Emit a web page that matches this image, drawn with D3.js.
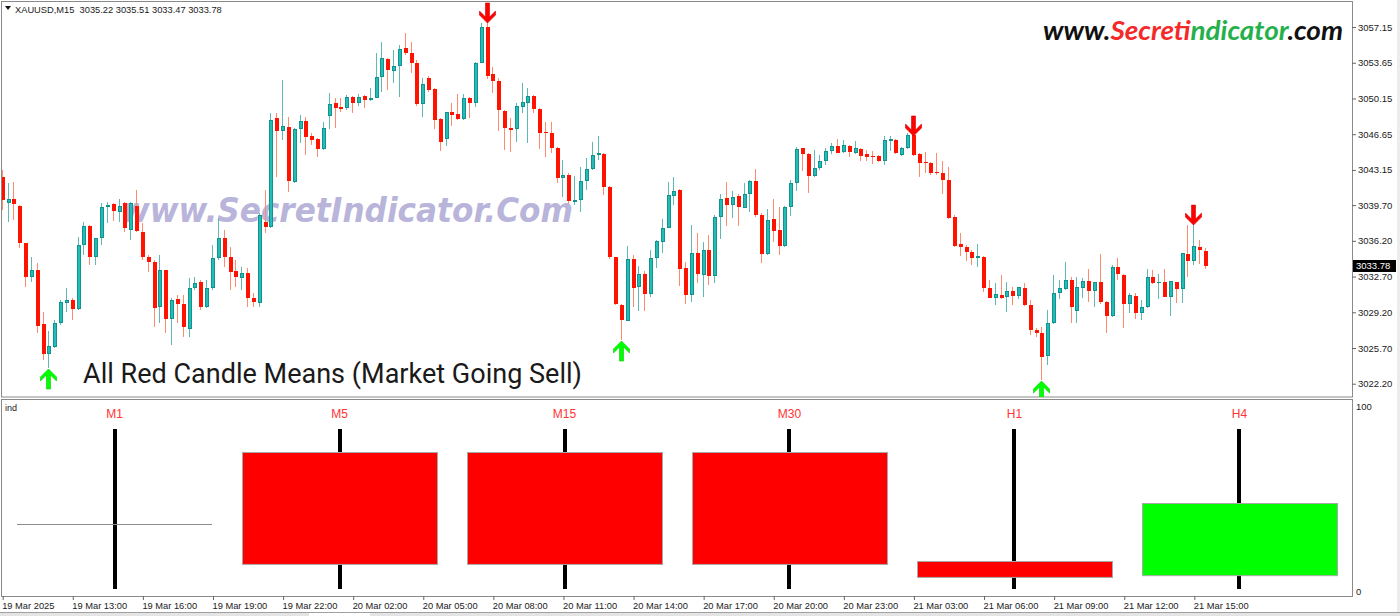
<!DOCTYPE html>
<html><head><meta charset="utf-8">
<script src="https://cdn.jsdelivr.net/npm/d3@7"></script>
<style>body{margin:0;background:#fff}svg{display:block}</style>
</head><body><svg id="c" width="1400" height="616"></svg>
<script>
// ---------- DATA (XAUUSD M15) ----------
const opens=[3042.45,3039.91,3040.30,3039.61,3035.99,3032.65,3033.34,3028.05,3025.11,3025.79,3028.15,3030.11,3030.40,3029.52,3035.79,3037.65,3034.61,3036.48,3039.51,3039.81,3039.02,3039.91,3037.26,3039.61,3037.06,3034.61,3034.12,3029.71,3033.34,3028.54,3030.50,3030.01,3027.56,3031.58,3032.16,3029.71,3031.58,3034.52,3036.48,3034.61,3033.24,3032.56,3033.05,3030.60,3030.11,3038.04,3037.55,3048.24,3046.96,3047.35,3041.96,3047.16,3047.94,3046.47,3046.18,3045.20,3048.43,3049.71,3049.31,3049.22,3050.29,3049.71,3050.39,3050.00,3050.20,3052.25,3054.02,3052.84,3053.33,3055.10,3054.61,3053.63,3049.61,3052.16,3051.08,3048.14,3046.18,3048.82,3048.63,3048.14,3050.20,3049.71,3053.63,3057.15,3052.55,3051.86,3048.92,3047.26,3047.16,3049.31,3049.71,3050.39,3049.12,3046.86,3046.77,3045.30,3042.36,3042.65,3040.00,3040.20,3042.06,3043.24,3044.61,3044.71,3041.47,3034.61,3029.91,3028.34,3034.42,3031.67,3032.95,3030.99,3034.52,3036.08,3037.46,3040.59,3041.18,3033.54,3030.89,3035.01,3032.85,3035.30,3032.75,3038.53,3040.40,3039.71,3040.59,3039.42,3040.79,3042.06,3038.73,3034.91,3038.34,3037.26,3035.69,3039.51,3041.87,3045.30,3044.71,3042.55,3043.34,3044.02,3045.00,3045.49,3044.90,3045.49,3044.81,3045.20,3044.71,3044.51,3044.51,3044.02,3045.98,3046.08,3044.61,3045.30,3046.57,3044.71,3043.92,3043.83,3042.94,3042.85,3042.16,3038.53,3035.89,3035.59,3035.10,3034.52,3034.61,3031.58,3030.60,3030.89,3030.69,3031.28,3030.79,3031.58,3029.91,3027.46,3027.17,3024.91,3028.15,3031.09,3031.48,3032.36,3029.32,3031.58,3032.26,3031.28,3032.16,3030.20,3028.83,3033.63,3032.85,3030.01,3030.79,3029.13,3029.71,3032.65,3032.02,3032.16,3030.69,3032.16,3031.48,3034.91,3034.22,3035.59,3035.22];
const highs=[3043.14,3041.87,3041.96,3039.71,3035.99,3034.61,3034.03,3029.22,3027.36,3028.44,3030.40,3031.58,3030.60,3036.57,3038.04,3037.75,3036.48,3039.91,3040.00,3039.91,3040.30,3040.00,3040.00,3041.18,3037.95,3034.81,3034.32,3034.81,3033.34,3030.60,3030.89,3030.89,3032.56,3032.65,3032.36,3032.36,3035.79,3038.44,3037.26,3035.59,3034.32,3033.63,3033.54,3031.09,3038.93,3041.18,3048.73,3048.73,3051.96,3048.33,3047.26,3048.53,3048.33,3046.77,3046.28,3047.84,3050.69,3050.20,3050.20,3050.49,3050.39,3050.59,3050.49,3051.18,3054.61,3055.68,3054.12,3054.90,3055.39,3056.57,3055.68,3053.92,3052.16,3052.35,3051.18,3048.24,3048.82,3049.71,3050.59,3050.59,3050.29,3053.72,3057.55,3057.84,3053.23,3052.16,3049.02,3048.24,3049.71,3051.67,3051.18,3050.49,3049.22,3047.84,3047.84,3045.39,3044.12,3042.85,3042.55,3043.43,3044.32,3045.88,3046.47,3044.81,3041.57,3034.61,3030.01,3035.69,3034.81,3033.73,3033.24,3035.30,3036.28,3038.34,3041.96,3042.45,3041.28,3034.12,3037.75,3036.97,3036.08,3036.77,3038.73,3040.79,3041.96,3041.08,3040.79,3041.87,3042.16,3043.24,3038.93,3039.32,3040.30,3039.51,3039.61,3042.16,3045.39,3045.30,3044.81,3045.10,3044.61,3045.30,3045.79,3046.18,3046.08,3045.59,3045.98,3045.30,3045.10,3045.00,3044.61,3046.47,3046.47,3046.18,3045.39,3046.77,3046.77,3044.81,3044.90,3043.92,3044.81,3044.02,3043.43,3038.73,3036.97,3035.79,3035.30,3035.89,3034.71,3032.36,3032.07,3032.85,3032.16,3031.67,3031.67,3032.07,3030.40,3027.66,3027.75,3029.42,3032.85,3032.36,3034.12,3032.65,3032.65,3032.56,3033.44,3032.16,3034.91,3030.30,3033.83,3034.52,3032.95,3031.09,3031.09,3030.40,3033.44,3033.34,3032.95,3033.44,3032.26,3032.16,3035.01,3037.75,3038.04,3036.28,3035.51];
const lows=[3039.22,3038.04,3038.24,3035.50,3031.67,3032.16,3027.17,3024.52,3023.74,3025.70,3027.95,3029.22,3028.44,3029.42,3034.81,3033.83,3033.83,3035.79,3037.95,3038.14,3038.04,3037.06,3036.28,3037.06,3034.32,3033.14,3027.75,3028.15,3027.17,3025.99,3028.15,3026.77,3026.77,3031.38,3029.42,3029.62,3031.38,3034.32,3033.63,3031.38,3031.67,3031.38,3029.71,3029.71,3029.71,3036.97,3037.46,3042.45,3046.08,3040.98,3041.87,3045.79,3044.61,3045.59,3044.41,3045.10,3047.16,3047.26,3048.82,3049.02,3048.73,3049.41,3049.22,3049.90,3050.20,3050.78,3050.98,3051.67,3050.29,3054.41,3052.65,3049.41,3048.33,3050.78,3047.16,3045.00,3045.49,3047.45,3048.04,3048.04,3048.24,3049.31,3053.63,3052.06,3050.69,3046.96,3045.10,3044.90,3045.88,3048.73,3045.79,3048.73,3045.20,3044.41,3044.81,3041.87,3040.49,3039.81,3039.71,3039.02,3041.18,3043.14,3044.12,3040.69,3034.42,3029.91,3026.48,3028.34,3029.71,3029.32,3029.32,3030.69,3033.54,3035.01,3037.46,3039.71,3031.77,3030.01,3030.20,3032.07,3030.69,3031.87,3032.07,3036.38,3037.65,3038.44,3037.65,3039.42,3039.02,3038.53,3034.03,3034.81,3036.08,3034.81,3035.59,3038.63,3041.08,3043.04,3040.89,3042.45,3043.14,3043.63,3044.71,3044.81,3044.81,3044.41,3044.71,3044.02,3044.02,3043.73,3043.92,3043.63,3045.00,3044.71,3044.51,3045.20,3044.51,3042.45,3042.85,3042.65,3042.65,3040.79,3038.34,3035.59,3034.71,3034.22,3033.83,3033.63,3031.18,3030.60,3029.91,3030.50,3029.22,3029.91,3030.50,3029.81,3026.97,3026.77,3022.56,3024.03,3028.05,3030.50,3031.38,3028.15,3028.15,3030.60,3030.20,3029.71,3030.01,3027.17,3028.73,3032.36,3027.66,3029.13,3028.54,3028.44,3029.62,3031.97,3030.50,3030.69,3028.83,3030.11,3030.11,3032.65,3033.83,3033.93,3033.47];
const closes=[3040.20,3040.30,3039.81,3035.99,3032.65,3033.34,3027.85,3025.11,3025.89,3028.15,3030.20,3030.40,3029.52,3035.79,3037.65,3034.61,3036.48,3039.51,3039.71,3039.12,3039.61,3037.46,3039.91,3037.16,3034.61,3034.12,3029.62,3033.34,3028.54,3030.40,3030.01,3027.75,3031.58,3032.07,3029.71,3031.58,3034.52,3036.48,3034.61,3033.14,3032.65,3033.05,3030.60,3030.20,3038.73,3037.55,3048.04,3046.96,3047.45,3042.06,3047.16,3047.94,3046.37,3046.08,3045.20,3047.26,3049.61,3049.22,3049.12,3050.29,3049.71,3050.29,3050.00,3050.20,3052.25,3054.12,3052.94,3053.33,3055.00,3054.61,3053.63,3049.61,3051.57,3050.98,3048.04,3045.88,3048.82,3048.53,3048.14,3050.20,3049.71,3053.63,3057.15,3052.35,3051.86,3049.02,3047.26,3047.11,3049.41,3049.80,3050.39,3049.12,3046.77,3046.77,3045.30,3042.36,3042.65,3040.10,3040.20,3042.06,3043.24,3044.61,3044.81,3041.47,3034.61,3030.01,3028.44,3034.42,3031.58,3032.95,3030.99,3034.52,3036.18,3037.46,3040.69,3041.08,3033.44,3030.89,3035.01,3032.95,3035.30,3032.75,3038.53,3040.30,3039.71,3040.49,3039.51,3040.79,3042.06,3038.73,3034.91,3038.24,3037.16,3035.69,3039.51,3041.87,3045.20,3044.71,3042.55,3043.34,3044.02,3045.00,3045.49,3044.81,3045.59,3044.90,3045.30,3044.51,3044.41,3044.41,3044.02,3046.08,3046.18,3044.81,3045.30,3046.57,3044.61,3043.83,3043.78,3042.85,3042.80,3042.16,3038.44,3035.69,3035.59,3035.10,3034.52,3034.71,3031.58,3030.60,3030.99,3030.60,3031.28,3030.79,3031.67,3029.91,3027.46,3027.17,3024.81,3028.15,3031.09,3031.58,3032.36,3029.71,3031.67,3032.26,3031.28,3032.16,3030.20,3028.83,3033.63,3032.95,3030.01,3030.89,3029.13,3029.71,3032.65,3032.07,3032.16,3030.69,3032.26,3031.48,3035.01,3034.22,3035.69,3035.30,3033.78];

const priceTicks=[3057.15,3053.65,3050.15,3046.65,3043.15,3039.70,3036.20,3032.70,3029.20,3025.70,3022.20];
const timeLabels=["19 Mar 2025","19 Mar 13:00","19 Mar 16:00","19 Mar 19:00","19 Mar 22:00","20 Mar 02:00","20 Mar 05:00","20 Mar 08:00","20 Mar 11:00","20 Mar 14:00","20 Mar 17:00","20 Mar 20:00","20 Mar 23:00","21 Mar 03:00","21 Mar 06:00","21 Mar 09:00","21 Mar 12:00","21 Mar 15:00"];
const timeBars=[0,12,24,36,48,60,72,84,96,108,120,132,144,156,168,180,192,204];
const buyArrowBars=[8,106,178];
const sellArrowBars=[83,156,204];

const tfLabels=["M1","M5","M15","M30","H1","H4"];
const tfOpen=[35.7,75.1,75.1,75.1,16.2,8.6];
const tfClose=[35.7,14.6,14.6,14.6,7.6,47.6];
const tfHigh=[87.6,87.6,87.6,87.6,87.6,87.6];
const tfLow=[1.1,1.1,1.1,1.1,1.1,1.1];
const indTicks=[0,100];

const headerText="XAUUSD,M15  3035.22 3035.51 3033.47 3033.78";
const noteText="All Red Candle Means (Market Going Sell)";

// ---------- DRAW ----------
const svg=d3.select("#c");
const AX="'Liberation Sans', Arial, sans-serif";
const N=opens.length;
const x=d3.scaleLinear().domain([0,N-1]).range([2.7,1206]);
const y=d3.scaleLinear().domain([3020.8,3059.8]).range([398,0]);
const yi=d3.scaleLinear().domain([0,100]).range([591,406]);

svg.append("rect").attr("width",1400).attr("height",616).attr("fill","#fff");

// panels
svg.append("rect").attr("x",1.5).attr("y",1.5).attr("width",1351).attr("height",395.5)
  .attr("fill","none").attr("stroke","#8a8a8a");
svg.append("rect").attr("x",1.5).attr("y",399.5).attr("width",1351).attr("height",197)
  .attr("fill","none").attr("stroke","#8a8a8a");

const clip=svg.append("clipPath").attr("id","mc");
clip.append("rect").attr("x",2).attr("y",2).attr("width",1350).attr("height",395);
const plot=svg.append("g").attr("clip-path","url(#mc)");

// watermark (background)
plot.append("text").attr("x",121).attr("y",222)
  .attr("font-family","'DejaVu Sans', Verdana, sans-serif").attr("font-weight","bold").attr("font-style","italic")
  .attr("font-size",34).attr("fill","#b8b4da")
  .attr("textLength",452).attr("lengthAdjust","spacingAndGlyphs")
  .text("www.SecretIndicator.Com");

// candles
const idx=d3.range(N);
const cg=plot.append("g").attr("shape-rendering","crispEdges");
cg.selectAll("rect.w").data(idx).join("rect").attr("class","w")
  .attr("x",i=>Math.round(x(i))-1).attr("width",1)
  .attr("y",i=>y(highs[i])).attr("height",i=>Math.max(1,y(lows[i])-y(highs[i])))
  .attr("fill",i=>closes[i]>=opens[i]?"#5fb9b4":"#ff8a6e");
cg.selectAll("rect.b").data(idx).join("rect").attr("class","b")
  .attr("x",i=>Math.round(x(i))-2).attr("width",4)
  .attr("y",i=>Math.min(y(opens[i]),y(closes[i])))
  .attr("height",i=>Math.max(1,Math.abs(y(opens[i])-y(closes[i]))))
  .attr("fill",i=>closes[i]>=opens[i]?"#13928d":"#ff1200");
cg.selectAll("rect.bi").data(idx.filter(i=>closes[i]>=opens[i]&&Math.abs(y(opens[i])-y(closes[i]))>2.5)).join("rect").attr("class","bi")
  .attr("x",i=>Math.round(x(i))-1).attr("width",2)
  .attr("y",i=>y(closes[i])+1).attr("height",i=>Math.abs(y(opens[i])-y(closes[i]))-2)
  .attr("fill","#22bdb6");

// arrows
const downArrow="M0,0 L-8,-8 L-8,-12 L-2,-6 L-2,-20 L2,-20 L2,-6 L8,-12 L8,-8 Z";
plot.selectAll("path.sell").data(sellArrowBars).join("path").attr("class","sell")
  .attr("d",downArrow)
  .attr("transform",i=>`translate(${Math.round(x(i))-0.5},${y(highs[i])+3})`)
  .attr("fill","#ff0000").attr("stroke","#d40000").attr("stroke-width",0.6);
plot.selectAll("path.buy").data(buyArrowBars).join("path").attr("class","buy")
  .attr("d",downArrow)
  .attr("transform",i=>`translate(${Math.round(x(i))-0.5},${y(lows[i])+1}) scale(1,-1)`)
  .attr("fill","#00ff00").attr("stroke","#00cc00").attr("stroke-width",0.6);

// note text
plot.append("text").attr("x",83).attr("y",383)
  .attr("font-family","Roboto, 'Open Sans', sans-serif").attr("font-size",27).attr("fill","#1a1a1a")
  .attr("textLength",499).attr("lengthAdjust","spacingAndGlyphs")
  .text(noteText);

// top-right brand
const brand=plot.append("text").attr("x",1043).attr("y",40)
  .attr("font-family","Lato, 'Open Sans', sans-serif").attr("font-weight","bold").attr("font-style","italic")
  .attr("font-size",27).attr("textLength",300).attr("lengthAdjust","spacingAndGlyphs");
brand.append("tspan").attr("fill","#111").text("www.");
brand.append("tspan").attr("fill","#f42a2a").text("Secret");
brand.append("tspan").attr("fill","#25b04b").text("indicator");
brand.append("tspan").attr("fill","#111").text(".com");

// header
svg.append("path").attr("d","M5,6 L11,6 L8,10 Z").attr("fill","#111");
svg.append("text").attr("x",15).attr("y",13).attr("font-family",AX).attr("font-size",9.3)
  .attr("fill","#1a1a1a").attr("xml:space","preserve").style("white-space","pre").text(headerText);

// price axis
const gy=svg.append("g").attr("transform","translate(1352,0)")
  .call(d3.axisRight(y).tickValues(priceTicks).tickFormat(d3.format(".2f")).tickSize(4).tickPadding(2));
gy.select(".domain").remove();
gy.selectAll("line").attr("stroke","#666");
gy.selectAll("text").attr("font-family",AX).attr("font-size",9.5).attr("fill","#1a1a1a");

// current price label
const lastC=closes[N-1];
svg.append("rect").attr("x",1353).attr("y",Math.round(y(lastC))-6).attr("width",43).attr("height",12).attr("fill","#000");
svg.append("text").attr("x",1356).attr("y",y(lastC)).attr("dy","0.33em").attr("font-family",AX).attr("font-size",9.5)
  .attr("fill","#fff").text(lastC.toFixed(2));

// indicator axis
const gi=svg.append("g").attr("transform","translate(1352,0)")
  .call(d3.axisRight(yi).tickValues(indTicks).tickFormat(d3.format("d")).tickSize(0).tickPadding(4));
gi.select(".domain").remove();
gi.selectAll("text").attr("font-family",AX).attr("font-size",9.5).attr("fill","#1a1a1a");

// time axis
const gx=svg.append("g").attr("transform","translate(0,596)")
  .call(d3.axisBottom(x).tickValues(timeBars).tickFormat((d,i)=>timeLabels[i]).tickSize(4).tickPadding(2));
gx.select(".domain").remove();
gx.selectAll("line").attr("stroke","#666");
gx.selectAll("text").attr("text-anchor","start").attr("x",-1).attr("font-family",AX).attr("font-size",9.3).attr("fill","#1a1a1a");

// indicator panel
svg.append("text").attr("x",5).attr("y",411).attr("font-family",AX).attr("font-size",9).attr("fill","#1a1a1a").text("ind");
const band=d3.scaleBand().domain(tfLabels).range([2,1352]).paddingInner(0.1333).paddingOuter(0.0667);
const ig=svg.append("g").attr("shape-rendering","crispEdges");
const tfi=d3.range(tfLabels.length);
ig.selectAll("rect.ln").data(tfi).join("rect").attr("class","ln")
  .attr("x",i=>Math.round(band(tfLabels[i])+band.bandwidth()/2)-2).attr("width",4)
  .attr("y",i=>yi(tfHigh[i])).attr("height",i=>yi(tfLow[i])-yi(tfHigh[i])).attr("fill","#000");
ig.selectAll("rect.bx").data(tfi.filter(i=>tfOpen[i]!==tfClose[i])).join("rect").attr("class","bx")
  .attr("x",i=>Math.round(band(tfLabels[i]))+0.5).attr("width",band.bandwidth())
  .attr("y",i=>Math.round(yi(Math.max(tfOpen[i],tfClose[i])))+0.5)
  .attr("height",i=>Math.abs(yi(tfOpen[i])-yi(tfClose[i])))
  .attr("fill",i=>tfClose[i]>tfOpen[i]?"#00ff00":"#ff0000").attr("stroke","#a8a8a8").attr("stroke-width",1)
  .attr("shape-rendering","auto");
ig.selectAll("line.dj").data(tfi.filter(i=>tfOpen[i]===tfClose[i])).join("line").attr("class","dj")
  .attr("x1",i=>band(tfLabels[i])).attr("x2",i=>band(tfLabels[i])+band.bandwidth())
  .attr("y1",i=>yi(tfOpen[i])).attr("y2",i=>yi(tfOpen[i])).attr("stroke","#8c8c8c").attr("stroke-width",1);
svg.selectAll("text.tf").data(tfi).join("text").attr("class","tf")
  .attr("x",i=>band(tfLabels[i])+band.bandwidth()/2).attr("y",418).attr("text-anchor","middle")
  .attr("font-family",AX).attr("font-size",12).attr("fill","#ff3333").text(i=>tfLabels[i]);

// bottom strip
svg.append("rect").attr("x",0).attr("y",612).attr("width",1400).attr("height",4).attr("fill","#e4e4e4");
svg.append("line").attr("x1",0).attr("x2",1400).attr("y1",612.5).attr("y2",612.5).attr("stroke","#a0a0a0");
svg.append("rect").attr("x",309).attr("y",613).attr("width",61).attr("height",3).attr("fill","#fff");
svg.append("rect").attr("x",1397).attr("y",0).attr("width",3).attr("height",612).attr("fill","#ececec");
</script></body></html>
